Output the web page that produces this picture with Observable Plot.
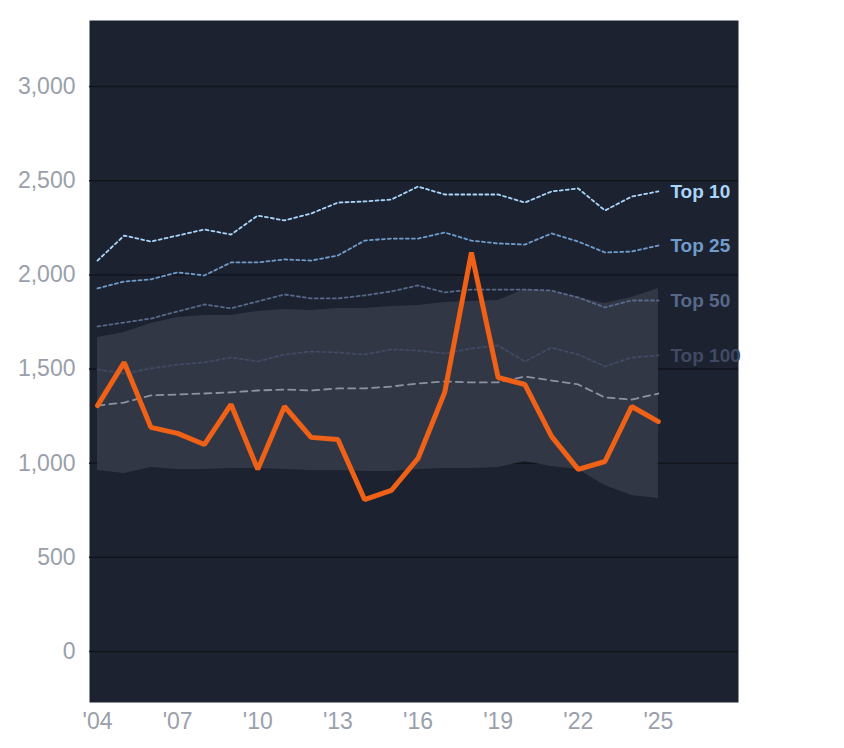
<!DOCTYPE html>
<html><head><meta charset="utf-8">
<script src="https://cdn.jsdelivr.net/npm/d3@7"></script>
<script src="https://cdn.jsdelivr.net/npm/@observablehq/plot@0.6"></script>
<style>body{margin:0;background:#fff;font-family:Arial,"Liberation Sans",sans-serif}</style>
</head><body><div id="c"></div>
<script>
const years = d3.range(2004, 2026);
const main = [1306,1535,1190,1158,1099,1312,967,1301,1137,1126,807,855,1025,1376,2119,1455,1418,1142,967,1009,1301,1221];
const top10 = [2076,2209,2177,2209,2241,2214,2315,2289,2326,2384,2390,2400,2469,2427,2427,2427,2384,2443,2459,2342,2416,2443];
const top25 = [1928,1965,1976,2013,1997,2066,2066,2082,2076,2103,2182,2193,2193,2225,2182,2167,2161,2220,2177,2119,2124,2156];
const top50 = [1726,1747,1768,1806,1843,1822,1859,1896,1875,1875,1891,1912,1944,1907,1922,1922,1922,1917,1880,1827,1864,1864];
const top100 = [1498,1476,1503,1524,1535,1561,1540,1577,1593,1588,1577,1604,1598,1583,1609,1625,1540,1614,1577,1514,1561,1572];
const median = [1306,1322,1360,1365,1370,1376,1386,1391,1386,1397,1397,1407,1423,1434,1429,1429,1460,1439,1418,1349,1338,1370];
const bandHi = [1668,1694,1742,1774,1784,1784,1806,1816,1811,1822,1822,1832,1837,1853,1859,1864,1922,1912,1880,1848,1880,1928];
const bandLo = [961,945,977,967,967,972,972,967,961,961,956,956,967,972,972,977,1009,982,967,882,828,813];
const xTicks = [2004,2007,2010,2013,2016,2019,2022,2025];
const yTicks = [0,500,1000,1500,2000,2500,3000];

const band = years.map((y,i)=>({y, lo:bandLo[i], hi:bandHi[i]}));
const tiers = [
  {name:"Top 10", v:top10, color:"#a9d5fb"},
  {name:"Top 25", v:top25, color:"#6f9ccb"},
  {name:"Top 50", v:top50, color:"#56698a"},
  {name:"Top 100", v:top100, color:"#404a62"}
];
const tierMarks = tiers.map(t => Plot.line(years.map((y,i)=>({y, v:t.v[i]})), {x:"y", y:"v", stroke:t.color, strokeWidth:1.8, strokeDasharray:"3,3"}));
const labels = tiers.map(t=>({name:t.name, x:2025.45, v:t.v[t.v.length-1], color:t.color}));

const plot = Plot.plot({
  width:844, height:748,
  marginLeft:89, marginRight:106, marginTop:20, marginBottom:46,
  style:{background:"#fff", fontFamily:"Arial, 'Liberation Sans', sans-serif"},
  x:{domain:[2003.7,2028], ticks:xTicks, tickFormat:d=>"'"+String(d).slice(2), label:null},
  y:{domain:[-271,3351], ticks:yTicks, label:null},
  marks:[
    Plot.frame({fill:"#1d2230", stroke:null}),
    Plot.gridY(yTicks, {stroke:"#12151c", strokeOpacity:1, strokeWidth:1.5}),
    Plot.areaY(band, {x:"y", y1:"lo", y2:"hi", fill:"#353a49", fillOpacity:0.9}),
    ...tierMarks,
    Plot.line(years.map((y,i)=>({y, v:median[i]})), {x:"y", y:"v", stroke:"#8c93a0", strokeWidth:1.8, strokeDasharray:"7,5"}),
    Plot.line(years.map((y,i)=>({y, v:main[i]})), {x:"y", y:"v", stroke:"#ee6116", strokeWidth:5, strokeLinejoin:"miter"}),
    Plot.text(labels, {x:"x", y:"v", text:"name", fill:"color", textAnchor:"start", fontSize:19, fontWeight:"bold", clip:false}),
    Plot.axisY(yTicks, {tickSize:0, tickPadding:14, fontSize:23, fill:"#9aa0ab"}),
    Plot.axisX(xTicks, {tickSize:0, tickPadding:10, fontSize:23, fill:"#9aa0ab", tickFormat:d=>"'"+String(d).slice(2)})
  ]
});
document.getElementById("c").appendChild(plot);
</script></body></html>
